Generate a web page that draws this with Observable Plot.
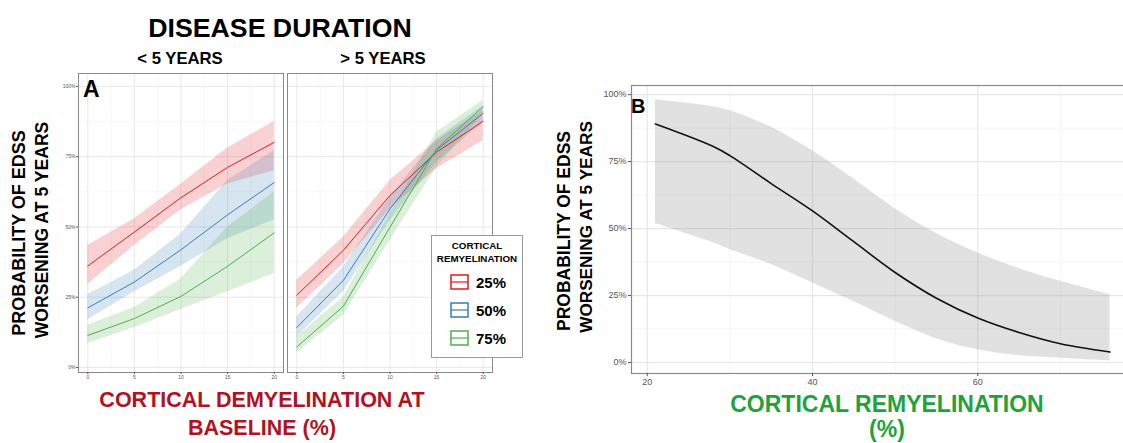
<!DOCTYPE html>
<html><head><meta charset="utf-8">
<script src="https://cdn.jsdelivr.net/npm/d3@7"></script>
<script src="https://cdn.jsdelivr.net/npm/@observablehq/plot@0.6"></script>
<style>
html,body{margin:0;padding:0;background:#fff;overflow:hidden;}
#root{position:relative;width:1123px;height:443px;overflow:hidden;font-family:"Liberation Sans",Arial,Helvetica,sans-serif;}
#root svg{font-family:"Liberation Sans",Arial,Helvetica,sans-serif;}
</style></head><body><div id="root"></div>
<script>
// ---------- DATA ----------
const demyelination = [0, 5, 10, 15, 20];
const remyelLevels = ["25%", "50%", "75%"];
const levelColors = ["#E41A1C", "#377EB8", "#4DAF4A"];
const facetLabels = ["< 5 YEARS", "> 5 YEARS"];

// < 5 years
const lt5_fit_25 = [36.1, 48.2, 60.4, 71.2, 80.1];
const lt5_lo_25  = [29.5, 43.4, 56.1, 65.3, 70.0];
const lt5_hi_25  = [43.4, 52.9, 65.3, 78.1, 87.5];
const lt5_fit_50 = [21.2, 30.4, 41.9, 54.3, 65.8];
const lt5_lo_50  = [17.0, 26.9, 36.0, 45.8, 52.5];
const lt5_hi_50  = [26.0, 34.6, 47.6, 66.5, 77.2];
const lt5_fit_75 = [11.4, 17.4, 25.3, 36.0, 47.9];
const lt5_lo_75  = [8.5, 14.2, 20.6, 26.9, 33.4];
const lt5_hi_75  = [15.0, 21.3, 31.6, 50.0, 62.4];
// > 5 years
const gt5_fit_25 = [25.7, 41.7, 61.2, 76.6, 87.6];
const gt5_lo_25  = [21.0, 36.9, 56.4, 70.7, 80.7];
const gt5_hi_25  = [31.0, 46.4, 66.5, 80.7, 91.4];
const gt5_fit_50 = [14.2, 31.0, 56.4, 77.4, 90.4];
const gt5_lo_50  = [10.9, 26.9, 52.3, 73.0, 87.2];
const gt5_hi_50  = [18.0, 35.7, 60.6, 81.3, 93.1];
const gt5_fit_75 = [7.3, 21.8, 49.9, 77.8, 92.8];
const gt5_lo_75  = [5.2, 18.6, 45.2, 71.2, 90.2];
const gt5_hi_75  = [10.9, 25.1, 54.7, 83.7, 95.1];

// Panel B
const remyelination = [21, 28, 30, 35, 40, 45, 50, 55, 60, 65, 70, 76];
const probB_fit = [89.0, 80.6, 77.2, 66.8, 56.6, 45.1, 33.6, 24.0, 16.6, 11.2, 7.0, 3.9];
const probB_lo  = [51.9, 44.7, 42.2, 36.6, 29.7, 22.8, 15.4, 8.9, 4.8, 2.6, 1.6, 0.6];
const probB_hi  = [98.1, 95.5, 94.0, 87.8, 79.0, 68.5, 57.4, 48.2, 40.9, 35.0, 30.3, 25.3];

// ticks
const pctTicks = [0, 25, 50, 75, 100];
const pctMinor = [12.5, 37.5, 62.5, 87.5];
const aXTicks = [0, 5, 10, 15, 20];
const aXMinor = [2.5, 7.5, 12.5, 17.5];
const bXTicks = [20, 40, 60];
const bXMinor = [30, 50, 70];

// ---------- BUILD ----------
const root = document.getElementById("root");
function series(fit, lo, hi, level) {
  return demyelination.map((x, i) => ({x, fit: fit[i], lo: lo[i], hi: hi[i], level}));
}
const lt5 = [
  ...series(lt5_fit_25, lt5_lo_25, lt5_hi_25, "25%"),
  ...series(lt5_fit_50, lt5_lo_50, lt5_hi_50, "50%"),
  ...series(lt5_fit_75, lt5_lo_75, lt5_hi_75, "75%")];
const gt5 = [
  ...series(gt5_fit_25, gt5_lo_25, gt5_hi_25, "25%"),
  ...series(gt5_fit_50, gt5_lo_50, gt5_hi_50, "50%"),
  ...series(gt5_fit_75, gt5_lo_75, gt5_hi_75, "75%")];
const bRows = remyelination.map((x, i) => ({x, fit: probB_fit[i], lo: probB_lo[i], hi: probB_hi[i]}));

function place(el, left, top) {
  el.style.position = "absolute";
  el.style.left = left + "px";
  el.style.top = top + "px";
  root.appendChild(el);
}

function panelA(rows, showY, fx0, fx1, fy0, fy1) {
  const ml = showY ? 30 : 2, mr = 2, mt = 2, mb = 14;
  const marks = [
    Plot.gridX(aXMinor, {stroke: "#f1f1f1", strokeOpacity: 1, strokeWidth: 0.6}),
    Plot.gridY(pctMinor, {stroke: "#f1f1f1", strokeOpacity: 1, strokeWidth: 0.6}),
    Plot.gridX(aXTicks, {stroke: "#e8e8e8", strokeOpacity: 1, strokeWidth: 1}),
    Plot.gridY(pctTicks, {stroke: "#e8e8e8", strokeOpacity: 1, strokeWidth: 1}),
    Plot.areaY(rows, {x: "x", y1: "lo", y2: "hi", z: "level", fill: "level", fillOpacity: 0.2}),
    Plot.line(rows, {x: "x", y: "fit", z: "level", stroke: "level", strokeWidth: 1}),
    Plot.frame({stroke: "#8a8a8a", strokeWidth: 1}),
    Plot.axisX(aXTicks, {tickSize: 2, tickPadding: 1, fontSize: 5, fill: "#555", stroke: "#555", label: null})
  ];
  if (showY) marks.push(Plot.axisY(pctTicks, {tickSize: 2, tickPadding: 1, fontSize: 5, fill: "#555", stroke: "#555", label: null, tickFormat: d => d + "%"}));
  const p = Plot.plot({
    width: (fx1 - fx0) + ml + mr, height: (fy1 - fy0) + mt + mb,
    marginLeft: ml, marginRight: mr, marginTop: mt, marginBottom: mb,
    x: {domain: [-1, 21]},
    y: {domain: [-1.8, 104.6], axis: showY ? undefined : null},
    color: {domain: remyelLevels, range: levelColors},
    style: {background: "transparent", overflow: "visible"},
    marks
  });
  place(p, fx0 - ml, fy0 - mt);
}

panelA(lt5, true, 78, 283, 73, 372);
panelA(gt5, false, 287, 492, 73, 372);

// Panel B
(function () {
  const fx0 = 631, fx1 = 1131, fy0 = 85, fy1 = 373;
  const ml = 40, mr = 0, mt = 2, mb = 18;
  const p = Plot.plot({
    width: (fx1 - fx0) + ml + mr, height: (fy1 - fy0) + mt + mb,
    marginLeft: ml, marginRight: mr, marginTop: mt, marginBottom: mb,
    x: {domain: [18.1, 78.6]},
    y: {domain: [-4.1, 103.4]},
    style: {background: "transparent", overflow: "visible"},
    marks: [
      Plot.gridX(bXMinor, {stroke: "#f1f1f1", strokeOpacity: 1, strokeWidth: 0.8}),
      Plot.gridY(pctMinor, {stroke: "#f1f1f1", strokeOpacity: 1, strokeWidth: 0.8}),
      Plot.gridX(bXTicks, {stroke: "#e6e6e6", strokeOpacity: 1, strokeWidth: 1.2}),
      Plot.gridY(pctTicks, {stroke: "#e6e6e6", strokeOpacity: 1, strokeWidth: 1.2}),
      Plot.areaY(bRows, {x: "x", y1: "lo", y2: "hi", fill: "#9a9a9a", fillOpacity: 0.3, curve: "catmull-rom"}),
      Plot.line(bRows, {x: "x", y: "fit", stroke: "#111", strokeWidth: 1.6, curve: "catmull-rom"}),
      Plot.frame({stroke: "#8a8a8a", strokeWidth: 1.2}),
      Plot.axisX(bXTicks, {tickSize: 3, tickPadding: 2, fontSize: 9, fill: "#555", stroke: "#555", label: null}),
      Plot.axisY(pctTicks, {tickSize: 3, tickPadding: 2, fontSize: 9, fill: "#555", stroke: "#555", label: null, tickFormat: d => d + "%"})
    ]
  });
  place(p, fx0 - ml, fy0 - mt);
})();

// ---------- TEXT OVERLAY ----------
const svg = d3.create("svg").attr("width", 1123).attr("height", 443)
  .style("position", "absolute").style("left", "0px").style("top", "0px")
  .style("pointer-events", "none")
  .attr("font-family", "'Liberation Sans', Arial, Helvetica, sans-serif")
  .attr("font-weight", "bold");
function txt(x, y, s, size, opts = {}) {
  const t = svg.append("text").attr("x", x).attr("y", y).attr("font-size", size)
    .attr("text-anchor", opts.anchor || "middle").attr("fill", opts.fill || "#000").text(s);
  if (opts.rotate) t.attr("x", 0).attr("y", 0).attr("transform", `translate(${x},${y}) rotate(-90)`);
  return t;
}
txt(280, 37, "DISEASE DURATION", 26.7);
txt(180, 64, facetLabels[0], 16.7);
txt(383, 64, facetLabels[1], 16.7);
txt(83, 97, "A", 23, {anchor: "start"});
txt(631, 113, "B", 20, {anchor: "start"});
// y labels
txt(25, 233, "PROBABILITY OF EDSS", 18, {rotate: true});
txt(48, 230, "WORSENING AT 5 YEARS", 17.6, {rotate: true});
txt(570, 231, "PROBABILITY OF EDSS", 17.5, {rotate: true});
txt(592, 227, "WORSENING AT 5 YEARS", 17.2, {rotate: true});
// x labels
txt(262, 407, "CORTICAL DEMYELINATION AT", 21.5, {fill: "#b2121f"});
txt(262, 435, "BASELINE (%)", 21.5, {fill: "#b2121f"});
txt(887, 412, "CORTICAL REMYELINATION", 23, {fill: "#1ea33a"});
txt(887, 437, "(%)", 23, {fill: "#1ea33a"});

// legend
svg.append("rect").attr("x", 431.5).attr("y", 235.5).attr("width", 91).attr("height", 122)
  .attr("fill", "#fff").attr("stroke", "#999").attr("stroke-width", 1);
txt(477, 249, "CORTICAL", 9.8);
txt(477, 262, "REMYELINATION", 9.8);
remyelLevels.forEach((lv, i) => {
  const y0 = 275 + i * 28;
  const c = levelColors[i];
  svg.append("rect").attr("x", 451).attr("y", y0).attr("width", 17).attr("height", 14)
    .attr("fill", "none").attr("stroke", c).attr("stroke-width", 1.5);
  svg.append("line").attr("x1", 451).attr("x2", 468).attr("y1", y0 + 7).attr("y2", y0 + 7)
    .attr("stroke", c).attr("stroke-width", 1.2);
  txt(476, y0 + 13, lv, 15, {anchor: "start"});
});
root.appendChild(svg.node());
</script>
</body></html>
